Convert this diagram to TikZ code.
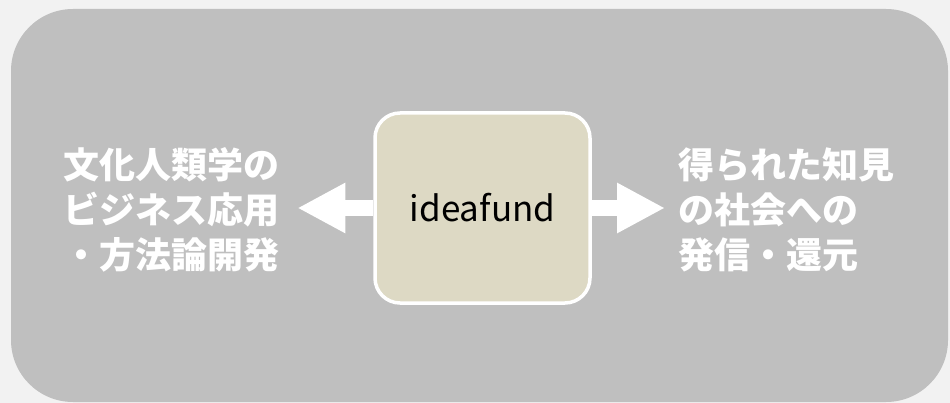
\documentclass[tikz,border=0pt]{standalone}
\usepackage{fontspec}
\setmainfont{Noto Sans CJK JP}
\usetikzlibrary{arrows.meta}
\definecolor{bgpage}{HTML}{F2F2F2}
\definecolor{panel}{HTML}{BFBFBF}
\definecolor{boxfill}{HTML}{DDD9C4}
\tikzset{
  jtext/.style={text=white, font=\fontsize{36}{45}\selectfont\bfseries, align=left, inner sep=0pt, anchor=west},
  bigarrow/.style={draw=white, line width=16pt, -{Triangle[length=48pt,width=47pt]}},
}
\begin{document}
\begin{tikzpicture}[x=1pt,y=-1pt]
\useasboundingbox[fill=bgpage] (0,0) rectangle (950,403);
\fill[panel, rounded corners=62pt] (11,9) rectangle (948,402);
\node[draw=white, line width=3.5pt, fill=boxfill, rounded corners=25pt,
      minimum width=215pt, minimum height=190pt, inner sep=0pt,
      font=\fontsize{35}{40}\selectfont] (box) at (482.5,208) {ideafund};
\node[jtext] (lt) at (63,210) {文化人類学の\\ビジネス応用\\・方法論開発};
\node[jtext] (rt) at (678,210) {得られた知見\\の社会への\\発信・還元};
\draw[bigarrow, shorten >=18pt] (box.west) -- (box.west -| lt.east);
\draw[bigarrow, shorten >=13pt] (box.east) -- (box.east -| rt.west);
\end{tikzpicture}
\end{document}
